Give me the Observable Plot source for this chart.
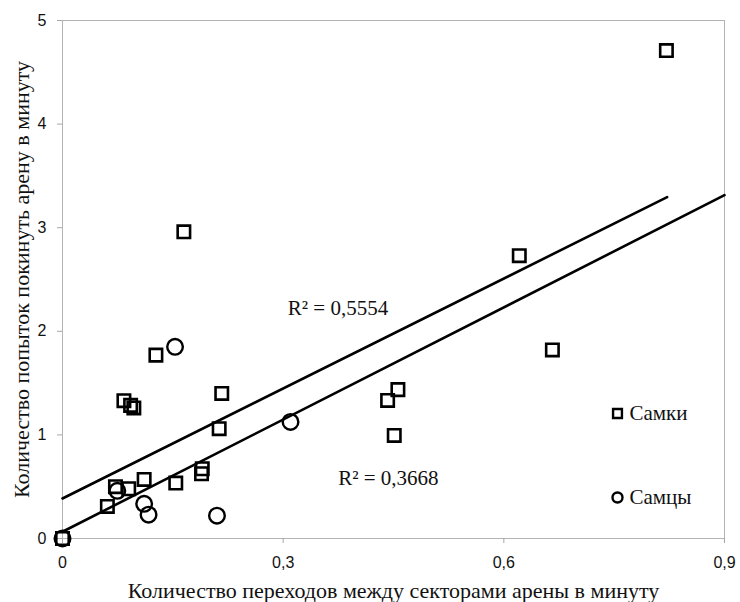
<!DOCTYPE html>
<html>
<head>
<meta charset="utf-8">
<script src="https://cdn.jsdelivr.net/npm/d3@7"></script>
<script src="https://cdn.jsdelivr.net/npm/@observablehq/plot@0.6"></script>
<style>
  html, body { margin: 0; padding: 0; background: #fff; }
  #chart { width: 740px; height: 602px; }
</style>
</head>
<body>
<div id="chart"></div>
<script>
// Самки (females) – squares
const femalesX = [0, 0.061, 0.072, 0.090, 0.111, 0.154, 0.189, 0.190, 0.213, 0.2165, 0.0835, 0.0926, 0.097, 0.127, 0.165, 0.442, 0.456, 0.451, 0.621, 0.666, 0.821];
const femalesY = [0, 0.31, 0.50, 0.48, 0.57, 0.535, 0.625, 0.673, 1.06, 1.40, 1.33, 1.285, 1.26, 1.77, 2.96, 1.333, 1.437, 0.995, 2.73, 1.82, 4.71];
// Самцы (males) – circles
const malesX = [0, 0.0745, 0.111, 0.117, 0.21, 0.153, 0.31];
const malesY = [0, 0.46, 0.335, 0.23, 0.22, 1.85, 1.125];

// Trend lines (Excel linear trendlines), end points
const femaleTrendX = [0, 0.822];
const femaleTrendY = [0.386, 3.295];
const maleTrendX = [0, 0.9];
const maleTrendY = [0.065, 3.314];

// Annotations
const r2Labels = ["R² = 0,5554", "R² = 0,3668"];
const r2X = [0.3745, 0.443];
const r2Y = [2.22, 0.58];

const xTicks = [0, 0.3, 0.6, 0.9];
const yTicks = [0, 1, 2, 3, 4, 5];
const legendLabels = ["Самки", "Самцы"];
const xTitle = "Количество переходов между секторами арены в минуту";
const yTitle = "Количество попыток покинуть арену в минуту";

const females = femalesX.map((x, i) => ({x, y: femalesY[i]}));
const males = malesX.map((x, i) => ({x, y: malesY[i]}));
const fTrend = femaleTrendX.map((x, i) => ({x, y: femaleTrendY[i]}));
const mTrend = maleTrendX.map((x, i) => ({x, y: maleTrendY[i]}));
const r2 = r2Labels.map((t, i) => ({t, x: r2X[i], y: r2Y[i]}));

const serif = "'Liberation Serif', 'Times New Roman', serif";
const sans = "'Liberation Sans', Arial, sans-serif";
const fmt = d => String(d).replace(".", ",");

const chart = Plot.plot({
  width: 740,
  height: 602,
  marginLeft: 62,
  marginRight: 16,
  marginTop: 20,
  marginBottom: 64,
  style: {background: "#fff", fontFamily: sans},
  x: {domain: [0, 0.9]},
  y: {domain: [0, 5]},
  marks: [
    Plot.frame({stroke: "#b3b3b3", strokeWidth: 1}),
    Plot.axisX({ticks: xTicks, tickFormat: fmt, tickSize: 5, tickPadding: 13, stroke: "#a6a6a6", fill: "#111", fontSize: 16, label: null, fontFamily: sans}),
    Plot.axisY({ticks: yTicks, tickFormat: fmt, tickSize: 5, tickPadding: 11, stroke: "#a6a6a6", fill: "#111", fontSize: 16, label: null, fontFamily: sans}),
    Plot.line(fTrend, {x: "x", y: "y", stroke: "#000", strokeWidth: 2.6}),
    Plot.line(mTrend, {x: "x", y: "y", stroke: "#000", strokeWidth: 2.6}),
    Plot.dot(females, {x: "x", y: "y", symbol: "square", r: 7, stroke: "#000", strokeWidth: 2.6, fill: "none"}),
    Plot.dot(males, {x: "x", y: "y", symbol: "circle", r: 7.8, stroke: "#000", strokeWidth: 2.4, fill: "none"}),
    Plot.text(r2, {x: "x", y: "y", text: "t", fontFamily: serif, fontSize: 21, fill: "#111"}),
    // axis titles
    Plot.text([yTitle], {text: d => d, frameAnchor: "left", textAnchor: "middle", lineAnchor: "middle", rotate: -90, dx: -41, fontFamily: serif, fontSize: 22, fill: "#111"}),
    Plot.text([xTitle], {text: d => d, frameAnchor: "bottom", textAnchor: "middle", lineAnchor: "middle", dy: 52, fontFamily: serif, fontSize: 22, fill: "#111"}),
    // legend
    Plot.dot([legendLabels[0]], {frameAnchor: "bottom-right", dx: -107, dy: -125, symbol: "square", r: 5, stroke: "#000", strokeWidth: 2.4, fill: "none"}),
    Plot.dot([legendLabels[1]], {frameAnchor: "bottom-right", dx: -107, dy: -41, symbol: "circle", r: 5, stroke: "#000", strokeWidth: 2.4, fill: "none"}),
    Plot.text([legendLabels[0]], {text: d => d, frameAnchor: "bottom-right", dx: -95, dy: -125, textAnchor: "start", lineAnchor: "middle", fontFamily: serif, fontSize: 21, fill: "#111"}),
    Plot.text([legendLabels[1]], {text: d => d, frameAnchor: "bottom-right", dx: -95, dy: -41, textAnchor: "start", lineAnchor: "middle", fontFamily: serif, fontSize: 21, fill: "#111"})
  ]
});
document.getElementById("chart").append(chart);
</script>
</body>
</html>
